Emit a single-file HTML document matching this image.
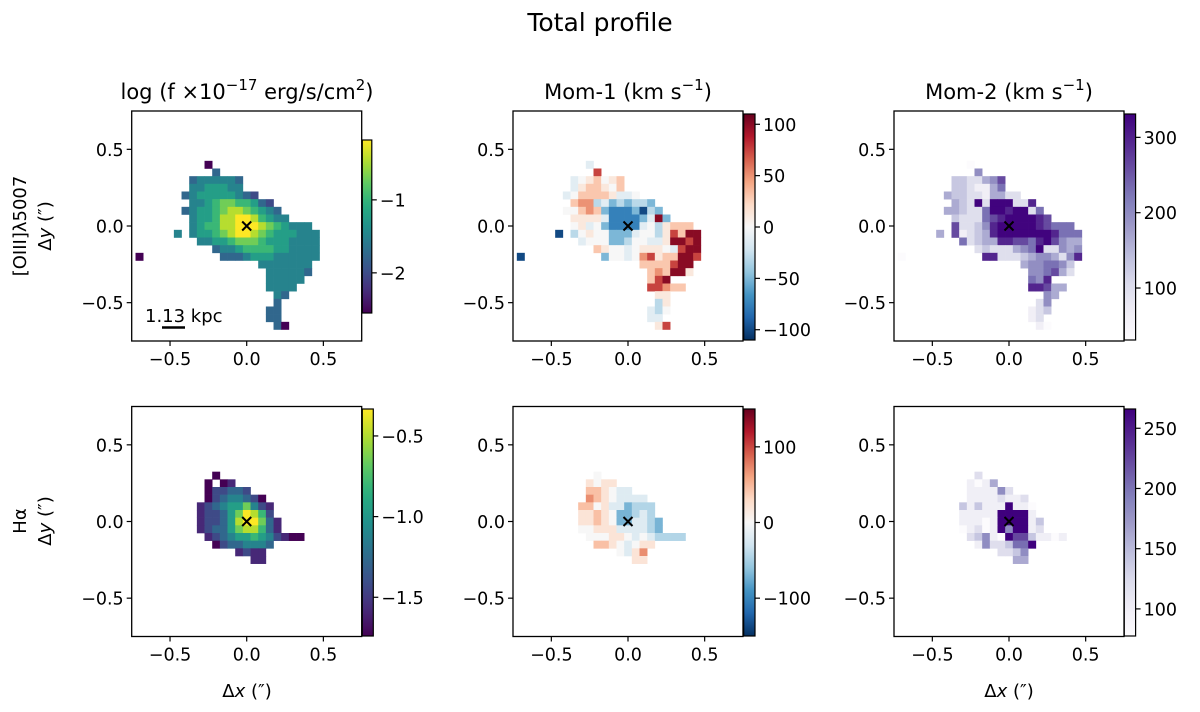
<!DOCTYPE html>
<html><head><meta charset="utf-8"><style>
html,body{margin:0;padding:0;background:#fff;}
svg{display:block;font-family:"DejaVu Sans","Liberation Sans",sans-serif;}
</style></head><body>
<svg id="fig" width="1200" height="712" viewBox="0 0 1200 712" xmlns="http://www.w3.org/2000/svg">
<defs id="defs"></defs>
<text x="600" y="31" font-size="25" text-anchor="middle">Total profile</text>
<text x="247" y="99" font-size="21" text-anchor="middle">log (f ×10<tspan font-size="15" dy="-9">−17</tspan><tspan dy="9"> erg/s/cm</tspan><tspan font-size="15" dy="-9">2</tspan><tspan dy="9">)</tspan></text>
<text x="628" y="99" font-size="21" text-anchor="middle">Mom-1 (km s<tspan font-size="15" dy="-9">−1</tspan><tspan dy="9">)</tspan></text>
<text x="1009" y="99" font-size="21" text-anchor="middle">Mom-2 (km s<tspan font-size="15" dy="-9">−1</tspan><tspan dy="9">)</tspan></text>
<text transform="translate(26,226) rotate(-90)" font-size="18" text-anchor="middle">[OIII]λ5007</text>
<text transform="translate(51,226) rotate(-90)" font-size="18" text-anchor="middle">Δ<tspan font-style="italic">y</tspan> (″)</text>
<text transform="translate(26,521) rotate(-90)" font-size="18" text-anchor="middle">Hα</text>
<text transform="translate(51,521) rotate(-90)" font-size="18" text-anchor="middle">Δ<tspan font-style="italic">y</tspan> (″)</text>
<text x="247" y="697" font-size="18" text-anchor="middle">Δ<tspan font-style="italic">x</tspan> (″)</text>
<text x="1009" y="697" font-size="18" text-anchor="middle">Δ<tspan font-style="italic">x</tspan> (″)</text>
<g id="plots"></g>
<text x="145" y="322" font-size="18">1.13 kpc</text>
<line x1="162" y1="327.5" x2="185" y2="327.5" stroke="#000" stroke-width="2.5"/>
</svg>
<script>
// ---------- data (rows: [j, kStart, codes]) ----------
const p1Levels = [[8,-5,"0"],[7,-4,"3"],[6,-7,"3444443"],[5,-7,"4455544"],[4,-8,"3455555432"],[3,-7,"44567766532"],[2,-8,"3455678876543"],[1,-7,"4556889986544"],[0,-7,"4566889998765444"],[-1,-9,"4.45567899876555444"],[-2,-6,"4455677765554444"],[-3,-4,"34456666554444"],[-4,-14,"0..........3334555444444"],[-5,2,"4444444"],[-6,3,"444443"],[-7,3,"44444"],[-8,3,"4444"],[-9,4,"43"],[-10,4,"3"],[-11,3,"33"],[-12,3,"33"],[-13,4,"30"]];
const p2Codes = [[8,-5,"E"],[7,-4,"4"],[6,-7,"E012012"],[5,-7,"E122102"],[4,-8,"E022221EE0"],[3,-7,"233DECDCDDC"],[2,-8,"00232CBBBCADC"],[1,-7,"1111EBBBBCE5C"],[0,-7,"01E0CBBBBE0D1222"],[-1,-9,"A.D0100CCCE00D14255"],[-2,-6,"E000CCD00EE15545"],[-3,-4,"2100E01110E455"],[-4,-14,"A..........C00E034122554"],[-5,2,"2222455"],[-6,3,"232551"],[-7,3,"245"],[-8,3,"44322"],[-9,4,"11"],[-10,4,"D1"],[-11,3,"ED0"],[-12,3,"EE"],[-13,4,"14"]];
const p3Levels = [[8,-5,"0"],[7,-4,"5"],[6,-7,"3322457"],[5,-7,"3321146"],[4,-8,"4332214422"],[3,-7,"43292999228"],[2,-8,"4432269989926"],[1,-7,"3222678999987"],[0,-7,"7223589999987666"],[-1,-9,"4.71234899999998666"],[-2,-6,"6234488776897544"],[-3,-4,"23222456922545"],[-4,-14,"0..........8822234554258"],[-5,2,"4556653"],[-6,3,"556742"],[-7,3,"658"],[-8,3,"88744"],[-9,5,"54"],[-10,4,"25"],[-11,3,"123"],[-12,3,"12"],[-13,4,"10"]];
const p4Levels = [[6,-4,"0"],[5,-5,"0.01"],[4,-5,"022332"],[3,-5,"02344320"],[2,-6,"1234557421"],[1,-6,"1223579862"],[0,-6,"12235899731"],[-1,-6,"12335788631"],[-2,-5,"1234556542100"],[-3,-4,"02334443"],[-4,-1,"1211"],[-5,1,"11"]];
const p5Codes = [[6,-4,"0"],[5,-5,"1011"],[4,-5,"2210EE"],[3,-5,"3210EEEE"],[2,-6,"2201EECDDD"],[1,-6,"11210CCDED"],[0,-6,"11210CCEEDC"],[-1,-6,"00111EEEEDC"],[-2,-5,"000110E0EDDDD"],[-3,-4,"2210E011"],[-4,-1,"0E13"],[-5,1,"11"]];
const p6Levels = [[6,-4,"2"],[5,-5,"1014"],[4,-5,"111152"],[3,-5,"11112112"],[2,-6,"3131119110"],[1,-6,"1111199991"],[0,-6,"11101999913"],[-1,-6,"01201959912"],[-2,-5,"2351097731101"],[-3,-4,"15223669"],[-4,-1,"2235"],[-5,1,"44"]];
const velCodeValues = {A:-100,B:-75,C:-50,D:-30,E:-12,"0":0,"1":12,"2":30,"3":50,"4":75,"5":100};
const haVelCodeValues = {A:-150,B:-110,C:-70,D:-45,E:-20,"0":0,"1":20,"2":45,"3":70,"4":110,"5":150};
const axisTicks = [-0.5, 0.0, 0.5];
const axisTickLabels = ["−0.5","0.0","0.5"];
const cb1Ticks = [-1,-2], cb1Labels = ["−1","−2"];
const cb2Ticks = [100,50,0,-50,-100], cb2Labels = ["100","50","0","−50","−100"];
const cb3Ticks = [300,200,100], cb3Labels = ["300","200","100"];
const cb4Ticks = [-0.5,-1.0,-1.5], cb4Labels = ["−0.5","−1.0","−1.5"];
const cb5Ticks = [100,0,-100], cb5Labels = ["100","0","−100"];
const cb6Ticks = [250,200,150,100], cb6Labels = ["250","200","150","100"];

// ---------- colormaps ----------
const VIR=["#440154","#472d7b","#3b528b","#2c728e","#21918c","#28ae80","#5ec962","#addc30","#fde725"];
const RDBU=["#053061","#2166ac","#4393c3","#92c5de","#d1e5f0","#f7f7f7","#fddbc7","#f4a582","#d6604d","#b2182b","#67001f"];
const PUR=["#fcfbfd","#efedf5","#dadaeb","#bcbddc","#9e9ac8","#807dba","#6a51a3","#54278f","#3f007d"];
function hx(h){return [1,3,5].map(i=>parseInt(h.substr(i,2),16));}
function cmap(st,t){t=Math.max(0,Math.min(1,t));const n=st.length-1,f=t*n,i=Math.min(n-1,Math.floor(f)),u=f-i;const a=hx(st[i]),b=hx(st[i+1]);return "rgb("+a.map((v,q)=>Math.round(v+(b[q]-v)*u)).join(",")+")";}

const NS="http://www.w3.org/2000/svg";
function mk(tag,attrs,parent){const e=document.createElementNS(NS,tag);for(const k in attrs)e.setAttribute(k,attrs[k]);parent.appendChild(e);return e;}
const plots=document.getElementById("plots"), defs=document.getElementById("defs");
const SIZE=230, PIX=0.05;

const panels=[
 {id:"p1",x0:131.7,y0:111,rows:p1Levels,dec:c=>-2.55+(+c)/9*2.37,cm:VIR,vmin:-2.55,vmax:-0.18,cb:[362.3,140,9.5,173],ticks:cb1Ticks,labels:cb1Labels},
 {id:"p2",x0:513,y0:111,rows:p2Codes,dec:c=>velCodeValues[c],cm:RDBU,vmin:-110,vmax:110,cb:[743.7,114,11.3,226],ticks:cb2Ticks,labels:cb2Labels},
 {id:"p3",x0:894,y0:111,rows:p3Levels,dec:c=>31+(+c)*33,cm:PUR,vmin:31,vmax:331,cb:[1124.3,114,11.3,226],ticks:cb3Ticks,labels:cb3Labels},
 {id:"p4",x0:131.7,y0:406.5,rows:p4Levels,dec:c=>-1.74+(+c)*0.156,cm:VIR,vmin:-1.74,vmax:-0.333,cb:[362.3,409,11,227],ticks:cb4Ticks,labels:cb4Labels},
 {id:"p5",x0:513,y0:406.5,rows:p5Codes,dec:c=>haVelCodeValues[c],cm:RDBU,vmin:-150,vmax:150,cb:[743.7,409,11.3,227],ticks:cb5Ticks,labels:cb5Labels},
 {id:"p6",x0:894,y0:406.5,rows:p6Levels,dec:c=>77.5+(+c)*21,cm:PUR,vmin:77.5,vmax:266,cb:[1124.3,409,11.3,227],ticks:cb6Ticks,labels:cb6Labels}
];

panels.forEach(P=>{
  const g=mk("g",{},plots);
  
  
  const xs=v=>P.x0+(v+0.75)/1.5*SIZE, ys=v=>P.y0+(0.75-v)/1.5*SIZE;
  const s=SIZE*PIX/1.5;
  P.rows.forEach(r=>{
    const j=r[0],k0=r[1],str=r[2];
    for(let i=0;i<str.length;i++){
      const c=str[i]; if(c===".") continue;
      const val=P.dec(c), k=k0+i;
      const rc=mk("rect",{x:(xs(k*PIX)-s/2).toFixed(2),y:(ys(j*PIX)-s/2).toFixed(2),width:(s+0.3).toFixed(2),height:(s+0.3).toFixed(2),fill:cmap(P.cm,(val-P.vmin)/(P.vmax-P.vmin))},g);
      
      
    }
  });
  const cx=xs(0),cy=ys(0);
  const m=mk("path",{d:`M${cx-4.5},${cy-4.5}L${cx+4.5},${cy+4.5}M${cx-4.5},${cy+4.5}L${cx+4.5},${cy-4.5}`,stroke:"#000","stroke-width":2},g);
  
  
  const fr=mk("rect",{x:P.x0,y:P.y0,width:SIZE,height:SIZE,fill:"none",stroke:"#000","stroke-width":1.3},g);
  
  
  axisTicks.forEach((t,i)=>{
    const X=xs(t),Y=ys(t),B=P.y0+SIZE;
    mk("line",{x1:X,y1:B,x2:X,y2:B+5,stroke:"#000","stroke-width":1.2},g);
    const tl=mk("text",{x:X,y:B+24,"font-size":17.5,"text-anchor":"middle"},g); tl.textContent=axisTickLabels[i];
    
    
    mk("line",{x1:P.x0,y1:Y,x2:P.x0-5,y2:Y,stroke:"#000","stroke-width":1.2},g);
    const yl=mk("text",{x:P.x0-8,y:Y+6.5,"font-size":17.5,"text-anchor":"end"},g); yl.textContent=axisTickLabels[i];
    
    
  });
  const [bx,by,bw,bh]=P.cb;
  const gr=mk("linearGradient",{id:"g"+P.id,x1:0,y1:1,x2:0,y2:0},defs);
  for(let q=0;q<=20;q++) mk("stop",{offset:q/20,"stop-color":cmap(P.cm,q/20)},gr);
  const cb=mk("rect",{x:bx,y:by,width:bw,height:bh,fill:`url(#g${P.id})`,stroke:"#000","stroke-width":1.2},g);
  
  
  const cys=v=>by+bh-(v-P.vmin)/(P.vmax-P.vmin)*bh;
  P.ticks.forEach((t,i)=>{
    const Y=cys(t);
    mk("line",{x1:bx+bw,y1:Y,x2:bx+bw+5,y2:Y,stroke:"#000","stroke-width":1.2},g);
    const cl=mk("text",{x:bx+bw+8,y:Y+6.5,"font-size":17.5},g); cl.textContent=P.labels[i];
    
    
  });
});
</script>
</body></html>
